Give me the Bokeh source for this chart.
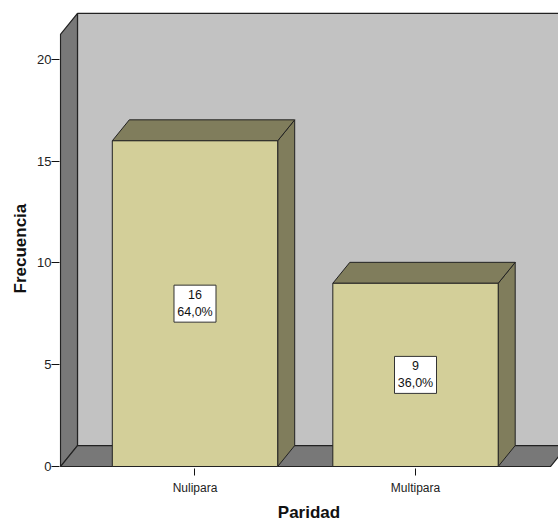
from bokeh.plotting import figure
from bokeh.models import Range1d, FixedTicker, ColumnDataSource, Title
from bokeh.embed import file_html
from bokeh.resources import INLINE

# ---- data ----
categories = ["Nulipara", "Multipara"]
counts = [16, 9]
y_ticks = [0, 5, 10, 15, 20]
x_title = "Paridad"
y_title = "Frecuencia"

# ---- styles ----
FRONT = "#D3CF99"
SHADE = "#807D5C"
BACK = "#C2C2C2"
WALL = "#787878"
EDGE = "#222222"
FONT = "Liberation Sans"

# ---- geometry (pixel scale of the reference) ----
W, H = 558, 524
PXX = 220.5          # px per category step
PXY = 20.4           # px per count unit
X_START, X_END = -0.6145, 1.6485
Y_START, Y_END = -0.098, 22.40
DX = 17 / PXX        # depth offset (x)
DY = 21 / PXY        # depth offset (y)
XW0, XW1 = -0.610, 1.612
HW = 21.23
HALF = 0.375

xs = list(range(len(categories)))
total = sum(counts)
labels = [f"{c}\n{(100.0 * c / total):.1f}%".replace(".", ",") for c in counts]

p = figure(width=W, height=H, output_backend="svg", toolbar_location=None,
           x_range=Range1d(X_START, X_END), y_range=Range1d(Y_START, Y_END),
           min_border_left=59, min_border_right=0, min_border_top=10, min_border_bottom=55)
p.outline_line_color = None
p.grid.visible = False
p.background_fill_color = "white"
p.border_fill_color = "white"

# walls
p.patch([XW0 + DX, XW0 + DX, XW1 + DX, XW1 + DX], [DY, HW + DY, HW + DY, DY],
        fill_color=BACK, line_color=EDGE, line_width=1.2)
p.patch([XW0, XW0, XW0 + DX, XW0 + DX], [0, HW, HW + DY, DY],
        fill_color=WALL, line_color=EDGE, line_width=1.2)
p.patch([XW0, XW0 + DX, XW1 + DX, XW1], [0, DY, DY, 0],
        fill_color=WALL, line_color=EDGE, line_width=1.2)

# bars
side_xs, side_ys, top_xs, top_ys = [], [], [], []
for x, c in zip(xs, counts):
    l, r = x - HALF, x + HALF
    side_xs.append([r, r, r + DX, r + DX])
    side_ys.append([0, c, c + DY, DY])
    top_xs.append([l, l + DX, r + DX, r])
    top_ys.append([c, c + DY, c + DY, c])
p.patches(side_xs, side_ys, fill_color=SHADE, line_color=EDGE, line_width=1)
p.patches(top_xs, top_ys, fill_color=SHADE, line_color=EDGE, line_width=1)
src = ColumnDataSource(dict(x=xs, top=counts, mid=[c / 2 for c in counts], lab=labels))
p.quad(left=[x - HALF for x in xs], right=[x + HALF for x in xs], bottom=0, top=counts,
       fill_color=FRONT, line_color=EDGE, line_width=1)

# value boxes
p.rect(x="x", y="mid", width=42, height=37, width_units="screen", height_units="screen",
       fill_color="white", line_color="#333333", line_width=1, source=src)
p.text(x="x", y="mid", text="lab", source=src, text_align="center", text_baseline="middle",
       text_font_size="12.5px", text_color="#111111", text_line_height=1.2,
       text_font={"value": FONT})

# axes
p.yaxis.ticker = FixedTicker(ticks=y_ticks, minor_ticks=[])
p.xaxis.ticker = FixedTicker(ticks=xs, minor_ticks=[])
p.xaxis.major_label_overrides = {i: c for i, c in enumerate(categories)}
for ax in (p.xaxis, p.yaxis):
    ax.axis_line_color = None
    ax.major_tick_line_color = "#111111"
    ax.major_tick_in = 0
    ax.minor_tick_line_color = None
    ax.major_label_text_font = FONT
    ax.major_label_text_color = "#222222"
    ax.axis_label_text_font = FONT
    ax.axis_label_text_font_style = "bold"
    ax.axis_label_text_color = "#111111"
p.xaxis.major_label_text_font_size = "12px"
p.yaxis.major_label_text_font_size = "13px"
p.yaxis.major_tick_out = 8
p.yaxis.major_label_standoff = 0
p.xaxis.major_tick_out = 7
p.xaxis.major_label_standoff = 5
p.xaxis.axis_label = x_title
p.xaxis.axis_label_text_font_size = "17px"
p.xaxis.axis_label_standoff = 5

# y title, placed along the front edge of the left wall
p.add_layout(Title(text=y_title, align="left", offset=175, standoff=9,
                   text_font=FONT, text_font_style="bold", text_font_size="17px",
                   text_color="#111111"), "left")

open("out.html", "w").write(file_html(p, INLINE))
